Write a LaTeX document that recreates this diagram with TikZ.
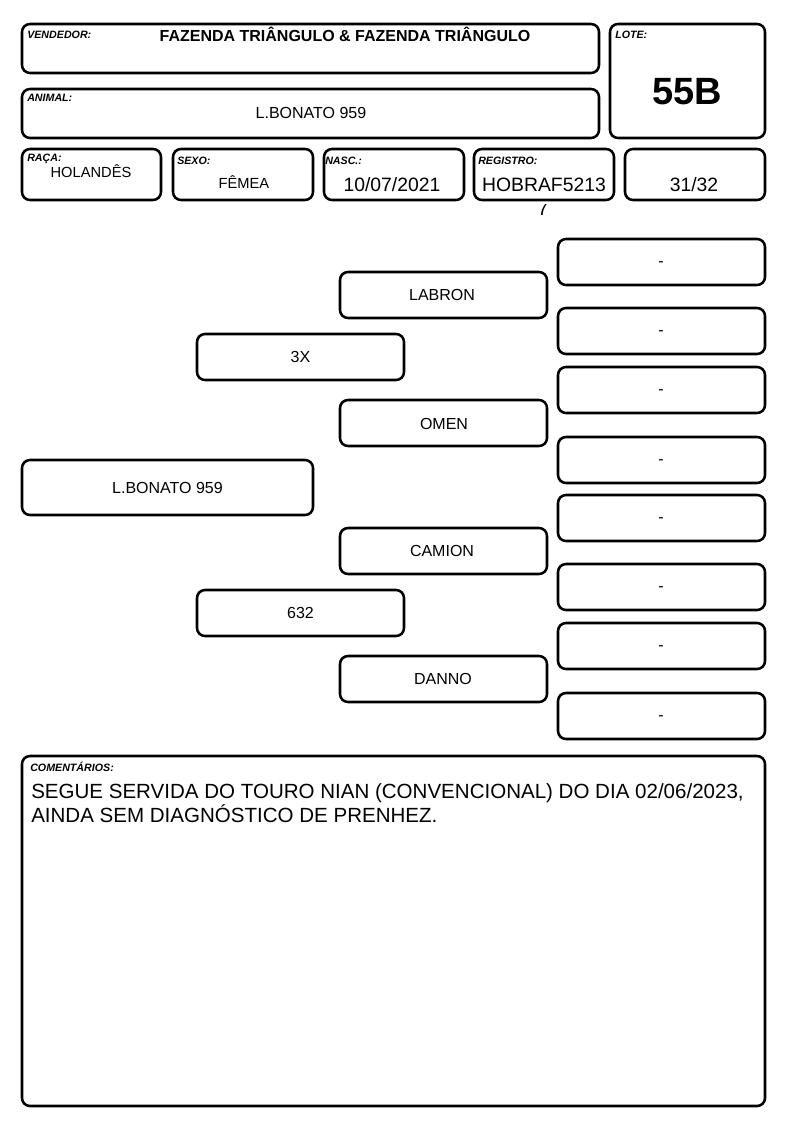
\documentclass[tikz,border=0pt]{standalone}
\usepackage{fontspec}
\setmainfont{Liberation Sans}
\begin{document}
\begin{tikzpicture}[x=0.75pt,y=-0.75pt,
  cellbox/.style={draw=black, line width=1.9pt, rounded corners=6pt},
  lbl/.style={anchor=base west, inner sep=0pt, font=\bfseries\itshape\fontsize{8}{9}\selectfont},
  val/.style={anchor=base, inner sep=0pt, font=\fontsize{14.5}{17}\selectfont},
  ped/.style={anchor=center, inner sep=0pt, font=\fontsize{12}{14}\selectfont},
]
\useasboundingbox (0,0) rectangle (794,1123);

% header boxes
\draw[cellbox] (22,24) rectangle (599,73);
\draw[cellbox] (610,24) rectangle (765,138);
\draw[cellbox] (22,89) rectangle (599,138);
\draw[cellbox] (22,149) rectangle (161,200);
\draw[cellbox] (173,149) rectangle (313,200);
\draw[cellbox] (324,149) rectangle (464,200);
\draw[cellbox] (474,149) rectangle (614,200);
\draw[cellbox] (625,149) rectangle (765,200);

\node[lbl] (lvend) at (27,39) {VENDEDOR:};
\node[anchor=base, inner sep=0pt, font=\bfseries\fontsize{12}{14}\selectfont] (vvend) at (345,42) {FAZENDA TRIÂNGULO \& FAZENDA TRIÂNGULO};
\node[lbl] (llote) at (615,39) {LOTE:};
\node[anchor=base, inner sep=0pt, font=\bfseries\fontsize{28.5}{32}\selectfont] (vlote) at (687,105) {55B};
\node[lbl] (lanimal) at (27,102) {ANIMAL:};
\node[anchor=base, inner sep=0pt, font=\fontsize{12}{14}\selectfont] (vanimal) at (311,119) {L.BONATO 959};
\node[lbl] (lraca) at (27,162) {RAÇA:};
\node[anchor=base, inner sep=0pt, font=\fontsize{11}{13}\selectfont] (vraca) at (91,178) {HOLANDÊS};
\node[lbl] (lsexo) at (177,165) {SEXO:};
\node[anchor=base, inner sep=0pt, font=\fontsize{11}{13}\selectfont] (vsexo) at (244,189) {FÊMEA};
\node[lbl] (lnasc) at (325,165) {NASC.:};
\node[val] (vnasc) at (392,192) {10/07/2021};
\node[lbl] (lreg) at (478,165) {REGISTRO:};
\node[val] (vreg) at (544,192) {HOBRAF5213};
\node[val] (vfrac) at (694,192) {31/32};
\begin{scope}
  \clip (530,205) rectangle (560,222);
  \node[val] (vseven) at (543,216) {7};
\end{scope}

% pedigree
\draw[cellbox] (22,460) rectangle (313,515);
\node[ped] (animal) at (167.5,487.5) {L.BONATO 959};

\draw[cellbox] (197,334) rectangle (404,380);
\node[ped] (sire) at (300.5,357) {3X};
\draw[cellbox] (197,590) rectangle (404,636);
\node[ped] (dam) at (300.5,613) {632};

\draw[cellbox] (340,272) rectangle (547,318);
\node[ped] (ss) at (442,295) {LABRON};
\draw[cellbox] (340,400) rectangle (547,446);
\node[ped] (sd) at (444,423.5) {OMEN};
\draw[cellbox] (340,528) rectangle (547,574);
\node[ped] (ds) at (442,551) {CAMION};
\draw[cellbox] (340,656) rectangle (547,702);
\node[ped] (dd) at (443,679) {DANNO};

\foreach \y [count=\i] in {238,307,366,436,494,563,622,692}{
  \draw[cellbox] (558,\y+1) rectangle (765,\y+47);
  \node[ped, anchor=base] (g\i) at (661,\y+28.5) {-};
}

% comments
\draw[cellbox] (22,756) rectangle (765,1106);
\node[lbl] (lcom) at (30,771) {COMENTÁRIOS:};
\node[anchor=base west, inner sep=0pt, font=\fontsize{15.4}{18}\selectfont] (com1) at (31,798) {SEGUE SERVIDA DO TOURO NIAN (CONVENCIONAL) DO DIA 02/06/2023,};
\node[anchor=base west, inner sep=0pt, font=\fontsize{15.4}{18}\selectfont] (com2) at (31,822) {AINDA SEM DIAGNÓSTICO DE PRENHEZ.};
\end{tikzpicture}
\end{document}
